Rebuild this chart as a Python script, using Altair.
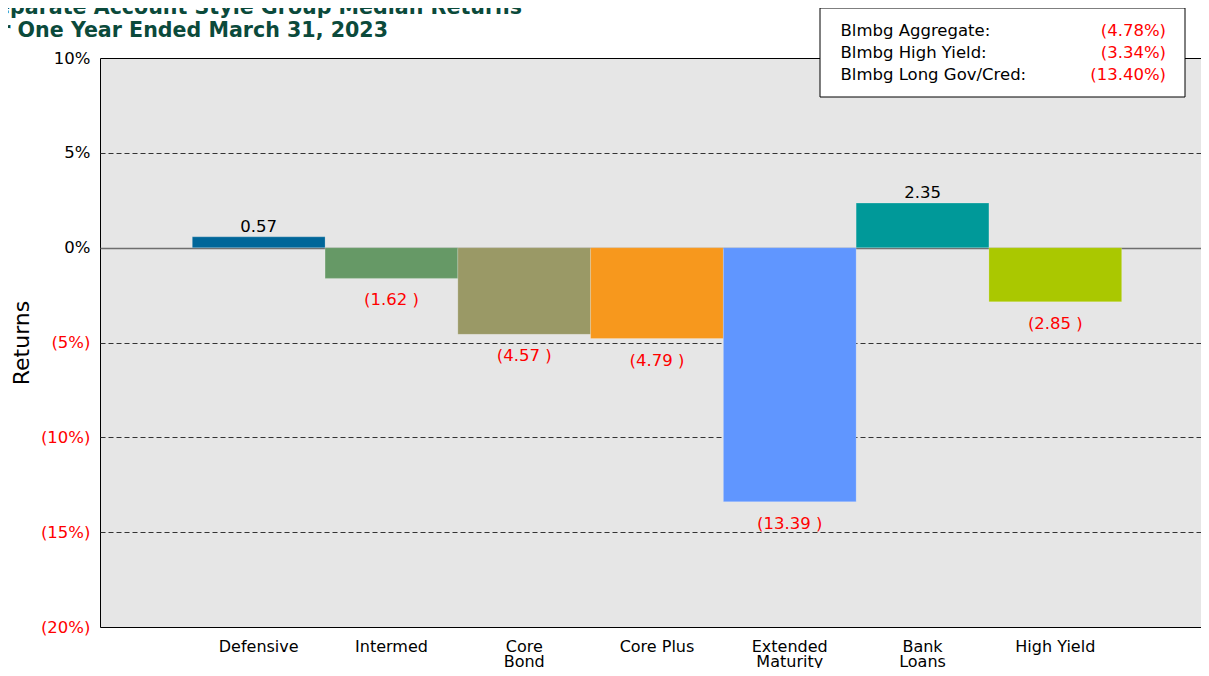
import altair as alt
import pandas as pd
import numpy as np

# ---------------- data ----------------
categories = ["Defensive", "Intermed", "Core|Bond", "Core Plus",
              "Extended|Maturity", "Bank|Loans", "High Yield"]
returns = [0.57, -1.62, -4.57, -4.79, -13.39, 2.35, -2.85]
bar_colors = ["#006699", "#669966", "#9A9966", "#F7981D",
              "#6096FF", "#009999", "#AAC800"]
y_ticks = [-20, -15, -10, -5, 0, 5, 10]
title_lines = ["Separate Account Style Group Median Returns",
               "for One Year Ended March 31, 2023"]
index_names = ["Blmbg Aggregate:", "Blmbg High Yield:", "Blmbg Long Gov/Cred:"]
index_returns = [-4.78, -3.34, -13.40]

FONT = "DejaVu Sans"
RED = "#FF0000"
TITLE_COLOR = "#0B4A3B"


def fmt_bar(v):
    return f"{v:.2f}" if v >= 0 else f"({abs(v):.2f} )"


def fmt_idx(v):
    return f"{v:.2f}%" if v >= 0 else f"({abs(v):.2f}%)"


df = pd.DataFrame({"cat": categories, "ret": returns, "color": bar_colors})
df["base"] = 0.0
df["label"] = [fmt_bar(v) for v in returns]
df["lblcolor"] = np.where(df["ret"] >= 0, "#000000", RED)

one = pd.DataFrame({"k": [0]})

# ---------------- encodings ----------------
x_scale = alt.Scale(paddingInner=0, paddingOuter=0.7216, align=0.4817)
x_axis = alt.Axis(
    title=None, labelExpr="split(datum.label, '|')", labelAngle=0,
    labelFont=FONT, labelFontSize=16, labelColor="#000000",
    labelPadding=11, labelLineHeight=15.5, ticks=False, domain=False,
    grid=False, labelBaseline="top")
x_enc = alt.X("cat:N", sort=categories, scale=x_scale, axis=x_axis)

y_scale = alt.Scale(domain=[-20, 10], nice=False, zero=False)
y_axis = alt.Axis(
    values=y_ticks,
    labelExpr="datum.value < 0 ? '(' + abs(datum.value) + '%)' : datum.value + '%'",
    labelColor={"condition": {"test": "datum.value < 0", "value": RED}, "value": "#000000"},
    labelFont=FONT, labelFontSize=16.5, labelPadding=10,
    ticks=False, domain=False, grid=True,
    gridColor={"condition": {"test": "datum.value == 0", "value": "#6E6E6E"}, "value": "#333333"},
    gridDash={"condition": {"test": "datum.value == 0", "value": []}, "value": [5, 3]},
    gridWidth={"condition": {"test": "datum.value == 0", "value": 1.5}, "value": 1},
    gridOpacity={"condition": {"test": "datum.value == 10 || datum.value == -20", "value": 0}, "value": 1},
    title="Returns", titleFont=FONT, titleFontSize=22, titleFontWeight="normal",
    titleColor="#000000", titleX=-72, titleY=284.5, titleAngle=270,
    titleAlign="center", titleBaseline="alphabetic",
)
y_enc = alt.Y("ret:Q", scale=y_scale, axis=y_axis)

bars = alt.Chart(df).mark_bar(stroke="#FFFFFF", strokeOpacity=0.2, strokeWidth=1).encode(
    x=x_enc, y=y_enc, y2=alt.Y2("base:Q"),
    color=alt.Color("color:N", scale=None),
)

lab_pos = alt.Chart(df).transform_filter("datum.ret >= 0").mark_text(
    font=FONT, fontSize=16.5, baseline="alphabetic", dy=-5
).encode(x=x_enc, y=y_enc, text="label:N",
         color=alt.Color("lblcolor:N", scale=None))

lab_neg = alt.Chart(df).transform_filter("datum.ret < 0").mark_text(
    font=FONT, fontSize=16.5, baseline="alphabetic", dy=27
).encode(x=x_enc, y=y_enc, text="label:N",
         color=alt.Color("lblcolor:N", scale=None))

title1 = alt.Chart(one).mark_text(
    text=title_lines[0], font=FONT, fontSize=20.6, fontWeight="bold",
    color=TITLE_COLOR, align="right", baseline="alphabetic"
).encode(x=alt.value(422), y=alt.value(-44))

title2 = alt.Chart(one).mark_text(
    text=title_lines[1], font=FONT, fontSize=20.6, fontWeight="bold",
    color=TITLE_COLOR, align="right", baseline="alphabetic"
).encode(x=alt.value(288), y=alt.value(-20.7))

box = alt.Chart(one).mark_rect(fill="#FFFFFF", stroke="#000000", strokeWidth=1).encode(
    x=alt.value(720), x2=alt.value(1085), y=alt.value(-50), y2=alt.value(39)
)

names = alt.Chart(one).mark_text(
    text=index_names, font=FONT, fontSize=16.5, color="#000000",
    align="left", baseline="alphabetic", lineHeight=22.3
).encode(x=alt.value(740.5), y=alt.value(-22.3))

vals = alt.Chart(one).mark_text(
    text=[fmt_idx(v) for v in index_returns], font=FONT, fontSize=16.5, color=RED,
    align="right", baseline="alphabetic", lineHeight=22.3
).encode(x=alt.value(1066), y=alt.value(-22.3))

chart = alt.layer(bars, lab_pos, lab_neg, title1, title2, box, names, vals).properties(
    width=1121, height=569,
    autosize=alt.AutoSizeParams(type="none"),
    padding={"left": 92, "top": 50, "right": -20, "bottom": 41},
).configure_view(fill="#E6E6E6", stroke="#000000", strokeWidth=1)

chart.save("out.html", embed_options={"renderer": "svg", "actions": False})
